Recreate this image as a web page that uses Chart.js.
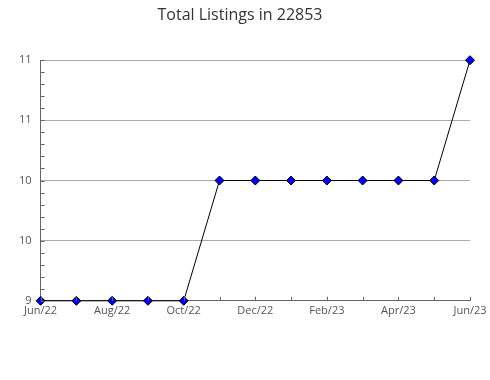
<!DOCTYPE html>
<html>
<head>
<meta charset="utf-8">
<script src="https://cdn.jsdelivr.net/npm/chart.js@4"></script>
<style>
  html, body { margin: 0; padding: 0; background: #fff; }
  #wrap { width: 490px; height: 380px; }
</style>
</head>
<body>
<div id="wrap"><canvas id="chart" width="490" height="380"></canvas></div>
<script>
const months = ["Jun/22", "Jul/22", "Aug/22", "Sep/22", "Oct/22", "Nov/22", "Dec/22",
  "Jan/23", "Feb/23", "Mar/23", "Apr/23", "May/23", "Jun/23"];
const listings = [9, 9, 9, 9, 9, 10, 10, 10, 10, 10, 10, 10, 11];
const yMin = 9;
const yMax = 11;

const isMajor = (v) => Math.abs(v * 2 - Math.round(v * 2)) < 1e-6;

// tick marks drawn inward from the axis lines, like the original
const inwardTicks = {
  id: "inwardTicks",
  afterDatasetsDraw(chart) {
    const ctx = chart.ctx;
    const x = chart.scales.x;
    const y = chart.scales.y;
    ctx.save();
    ctx.strokeStyle = "#666";
    ctx.lineWidth = 1;
    ctx.beginPath();
    y.ticks.forEach((t, i) => {
      const py = Math.round(y.getPixelForTick(i)) + 0.5;
      ctx.moveTo(x.left, py);
      ctx.lineTo(x.left + 4, py);
    });
    x.ticks.forEach((t, i) => {
      const px = Math.round(x.getPixelForTick(i)) + 0.5;
      ctx.moveTo(px, y.bottom);
      ctx.lineTo(px, y.bottom - 4);
    });
    ctx.stroke();
    ctx.restore();
  }
};

new Chart(document.getElementById("chart"), {
  type: "line",
  data: {
    labels: months,
    datasets: [{
      data: listings,
      borderColor: "#000",
      borderWidth: 1,
      pointStyle: "rectRot",
      pointRadius: 4.5,
      pointHoverRadius: 4.5,
      pointBackgroundColor: "#0000ee",
      pointBorderColor: "#000",
      pointBorderWidth: 1,
      tension: 0,
      clip: false
    }]
  },
  options: {
    responsive: false,
    animation: false,
    layout: { padding: { top: 0, right: 20, bottom: 60, left: 10 } },
    plugins: {
      legend: { display: false },
      tooltip: { enabled: false },
      title: {
        display: true,
        text: "Total Listings in 22853",
        color: "#333",
        font: { family: "Open Sans", size: 16, weight: "normal" },
        padding: { top: 6, bottom: 35 }
      }
    },
    scales: {
      x: {
        type: "category",
        offset: false,
        grid: { display: false, drawTicks: false },
        border: { display: true, color: "#666", width: 1 },
        ticks: {
          autoSkip: false,
          maxRotation: 0,
          padding: 3,
          color: "#555",
          font: { family: "Open Sans", size: 11 },
          callback: (v, i) => (i % 2 === 0 ? months[i] : "")
        }
      },
      y: {
        min: yMin,
        max: yMax,
        grid: {
          drawTicks: false,
          color: (c) => (c.tick && isMajor(c.tick.value) ? "#aaa" : "rgba(0,0,0,0)")
        },
        border: { display: true, color: "#666", width: 1 },
        ticks: {
          stepSize: 0.1,
          autoSkip: false,
          padding: 9,
          color: "#555",
          font: { family: "Open Sans", size: 11 },
          callback: (v) => (isMajor(v) ? String(Math.round(v)) : "")
        }
      }
    }
  },
  plugins: [inwardTicks]
});
</script>
</body>
</html>
